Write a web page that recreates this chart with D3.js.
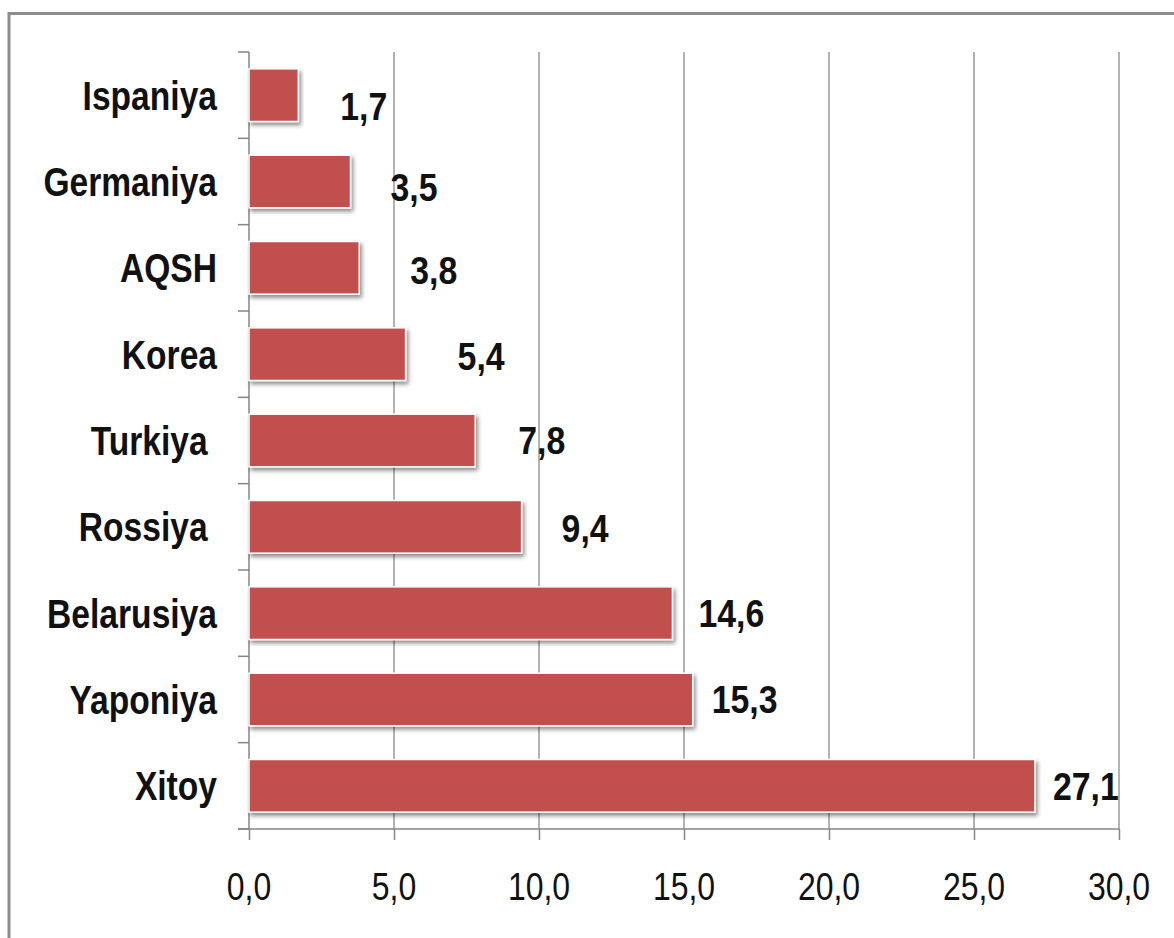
<!DOCTYPE html>
<html>
<head>
<meta charset="utf-8">
<script src="https://cdn.jsdelivr.net/npm/d3@7"></script>
<style>
  body { margin: 0; background: #fff; }
  text { font-family: "Liberation Sans", Arial, sans-serif; white-space: pre; }
</style>
</head>
<body>
<svg width="1174" height="938"></svg>
<script>
// data
var countries = ["Ispaniya", "Germaniya", "AQSH", "Korea", "Turkiya ", "Rossiya ", "Belarusiya", "Yaponiya", "Xitoy"];
var shares = [1.7, 3.5, 3.8, 5.4, 7.8, 9.4, 14.6, 15.3, 27.1];
var xTicks = [0, 5, 10, 15, 20, 25, 30];

// hand-placed label nudges in the original (dx from bar end, dy from band centre)
var labelNudge = [[42, 11], [40, 6], [51, 2], [52, 2], [43, 0], [40, 1], [26, 0], [19, 0], [18, 0]];

var svg = d3.select("svg");
var plot = { left: 249, right: 1119, top: 52, bottom: 829 };
var sx = 0.82;     // tick text is squeezed horizontally
var sxCat = 0.84;  // category names
var sxVal = 0.89;  // value labels

var x = d3.scaleLinear().domain([0, 30]).range([plot.left, plot.right]);
var y = d3.scaleBand().domain(countries).range([plot.top, plot.bottom])
	.paddingInner(0.39).paddingOuter(0.195);

var fmt = function(v){ return d3.format(".1f")(v).replace(".", ","); };

// outer frame (runs off the right and bottom edge)
svg.append("rect")
	.attr("x", 9).attr("y", 13.5)
	.attr("width", 1300).attr("height", 1000)
	.attr("fill", "none").attr("stroke", "#8c8c8c").attr("stroke-width", 3);

var defs = svg.append("defs");
var f = defs.append("filter").attr("id", "shadow")
	.attr("x", "-5%").attr("y", "-20%").attr("width", "115%").attr("height", "160%");
f.append("feDropShadow").attr("dx", 2).attr("dy", 3).attr("stdDeviation", 2.2)
	.attr("flood-color", "#000").attr("flood-opacity", 0.45);

// vertical gridlines
svg.append("g").selectAll("line").data(xTicks.slice(1)).join("line")
	.attr("x1", function(d){ return x(d); }).attr("x2", function(d){ return x(d); })
	.attr("y1", plot.top).attr("y2", plot.bottom)
	.attr("stroke", "#8a8a8a").attr("stroke-width", 1.3);

// bottom axis
var xAxis = svg.append("g")
	.attr("transform", "translate(0," + plot.bottom + ")")
	.call(d3.axisBottom(x).tickValues(xTicks).tickSize(11).tickFormat(""));
xAxis.select(".domain").attr("stroke", "#868686").attr("stroke-width", 1.5)
	.attr("d", "M" + (plot.left - 11) + ",0H" + plot.right);
xAxis.selectAll(".tick line").attr("stroke", "#868686").attr("stroke-width", 1.5);

// left axis with ticks on band boundaries
var bounds = d3.range(countries.length + 1).map(function(i){ return y.range()[0] + i * y.step(); });
var yAxis = svg.append("g");
yAxis.append("line")
	.attr("x1", plot.left).attr("x2", plot.left).attr("y1", plot.top).attr("y2", plot.bottom)
	.attr("stroke", "#868686").attr("stroke-width", 1.5);
yAxis.selectAll("line.tk").data(bounds).join("line").attr("class", "tk")
	.attr("x1", plot.left - 11).attr("x2", plot.left)
	.attr("y1", function(d){ return d; }).attr("y2", function(d){ return d; })
	.attr("stroke", "#868686").attr("stroke-width", 1.5);

// tick labels
svg.append("g").selectAll("text").data(xTicks).join("text")
	.attr("transform", function(d){ return "translate(" + x(d) + ",900) scale(" + sx + ",1)"; })
	.attr("text-anchor", "middle")
	.attr("font-size", 39)
	.attr("fill", "#111")
	.text(fmt);

// bars
svg.append("g").selectAll("rect").data(shares).join("rect")
	.attr("x", x(0))
	.attr("y", function(d, i){ return y(countries[i]); })
	.attr("width", function(d){ return x(d) - x(0); })
	.attr("height", y.bandwidth())
	.attr("fill", "#C0504D")
	.attr("stroke", "#fff").attr("stroke-width", 1.5)
	.attr("filter", "url(#shadow)");

// category labels
svg.append("g").selectAll("text").data(countries).join("text")
	.attr("transform", function(d){
		return "translate(217," + (y(d) + y.bandwidth() / 2) + ") scale(" + sxCat + ",1)";
	})
	.attr("dy", "0.36em")
	.attr("text-anchor", "end")
	.attr("font-size", 40)
	.attr("font-weight", "bold")
	.attr("fill", "#111")
	.text(function(d){ return d; });

// value labels
svg.append("g").selectAll("text").data(shares).join("text")
	.attr("transform", function(d, i){
		var c = y(countries[i]) + y.bandwidth() / 2 + labelNudge[i][1];
		return "translate(" + (x(d) + labelNudge[i][0]) + "," + c + ") scale(" + sxVal + ",1)";
	})
	.attr("dy", "0.36em")
	.attr("font-size", 38)
	.attr("font-weight", "bold")
	.attr("fill", "#111")
	.text(fmt);
</script>
</body>
</html>
